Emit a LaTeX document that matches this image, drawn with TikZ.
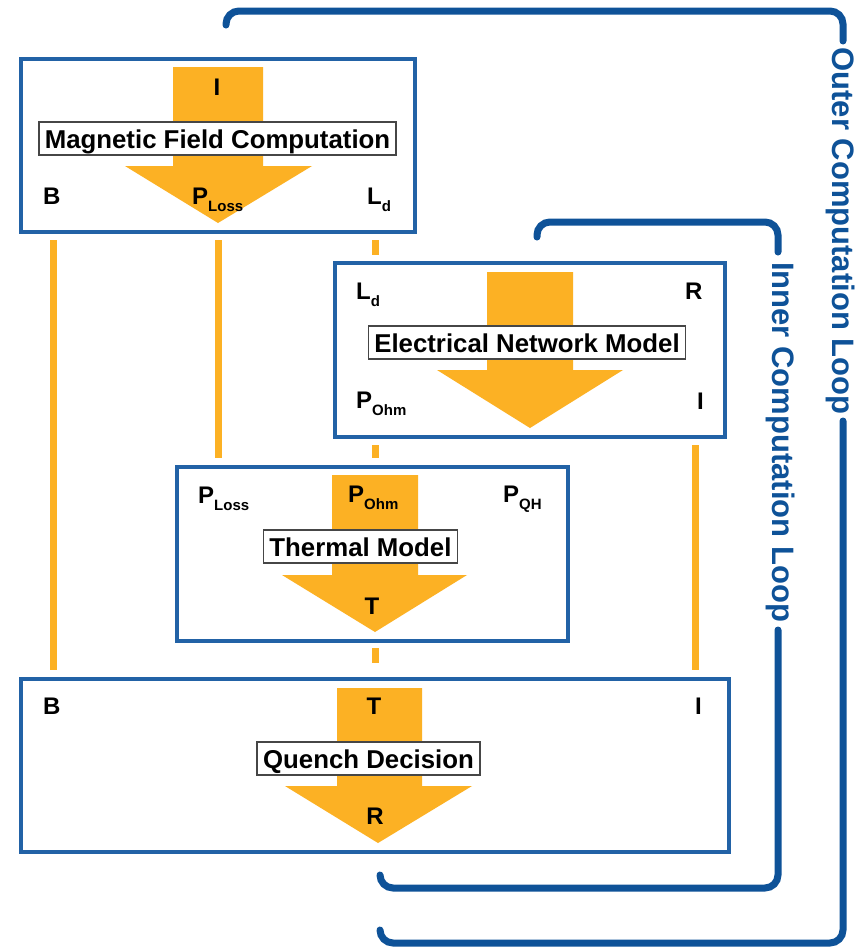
\documentclass[tikz,border=0pt]{standalone}
\usepackage{fontspec}
\setmainfont{Liberation Sans}
\definecolor{orng}{RGB}{252,177,36}
\definecolor{loopbl}{RGB}{14,82,152}
\definecolor{boxbl}{RGB}{34,98,166}
\newcommand\sbs[1]{\raisebox{-7pt}{\fontsize{15}{15}\selectfont #1}}
\begin{document}
\begin{tikzpicture}[x=1pt,y=-1pt,
  blk/.style={draw=boxbl, line width=3.5, fill=white, inner sep=0},
  arr/.style={fill=orng},
  ttl/.style={draw=gray!55!black, line width=1.5, fill=white,
    font=\fontsize{25.8}{26}\selectfont\bfseries, inner xsep=6, inner ysep=0,
    text height=26, text depth=7, anchor=base},
  lab/.style={font=\fontsize{24}{24}\selectfont\bfseries, anchor=base west, inner sep=0},
  labc/.style={lab, anchor=base},
  conn/.style={draw=orng, line width=7},
  looptxt/.style={text=loopbl, font=\fontsize{31}{31}\selectfont\bfseries, rotate=-90, anchor=base, inner sep=0},
  loopline/.style={draw=loopbl, line width=7, line cap=round, rounded corners=13}]
\useasboundingbox (0,0) rectangle (858,948);

% blocks
\node[blk, minimum width=394, minimum height=173] (mfc) at (218,145.5) {};
\node[blk, minimum width=390, minimum height=174] (enm) at (530,350) {};
\node[blk, minimum width=391, minimum height=174] (thm) at (372.5,554) {};
\node[blk, minimum width=708, minimum height=173] (qd) at (375,765.5) {};

% big arrows
\fill[arr] (173,67) -- (263,67) -- (263,166) -- (312,166) -- (218,223) -- (125,166) -- (173,166) -- cycle;
\fill[arr] (487,272) -- (573,272) -- (573,370) -- (623,370) -- (530,428) -- (437,370) -- (487,370) -- cycle;
\fill[arr] (332,475) -- (418,475) -- (418,575) -- (467,575) -- (375,632) -- (282,575) -- (332,575) -- cycle;
\fill[arr] (337,688) -- (422,688) -- (422,786) -- (472,786) -- (378,843) -- (285,786) -- (337,786) -- cycle;

% titles
\node[ttl] (mfct) at (217.5,148) {Magnetic Field Computation};
\node[ttl] (enmt) at (527,352) {Electrical Network Model};
\node[ttl] (thmt) at (360.5,556) {Thermal Model};
\node[ttl] (qdt) at (368.5,768) {Quench Decision};

% labels box 1
\node[labc] (m1) at (217,95) {I};
\node[lab] (m2) at (43,204) {B};
\node[lab] (m3) at (192,204) {P\sbs{Loss}};
\node[lab] (m4) at (367,204) {L\sbs{d}};
% labels box 2
\node[lab] (e1) at (356,299) {L\sbs{d}};
\node[lab] (e2) at (685,299) {R};
\node[lab] (e3) at (356,408) {P\sbs{Ohm}};
\node[lab] (e4) at (697,409) {I};
% labels box 3
\node[lab] (t1) at (198,503) {P\sbs{Loss}};
\node[lab] (t2) at (348,502) {P\sbs{Ohm}};
\node[lab] (t3) at (503,502) {P\sbs{QH}};
\node[labc] (t4) at (372,614) {T};
% labels box 4
\node[lab] (q1) at (43,714) {B};
\node[labc] (q2) at (374,714) {T};
\node[lab] (q3) at (695,714) {I};
\node[labc] (q4) at (375,824) {R};

% orange connectors
\coordinate (cB1) at (53,240);   \coordinate (cB2) at (53,670);
\coordinate (cP1) at (218,240);  \coordinate (cP2) at (218,458);
\coordinate (cL1) at (375,240);  \coordinate (cL2) at (375,255);
\coordinate (cO1) at (375,445);  \coordinate (cO2) at (375,458);
\coordinate (cT1) at (375,648);  \coordinate (cT2) at (375,663);
\coordinate (cI1) at (695,445);  \coordinate (cI2) at (695,670);
\draw[conn] (cB1) -- (cB2);
\draw[conn] (cP1) -- (cP2);
\draw[conn] (cL1) -- (cL2);
\draw[conn] (cO1) -- (cO2);
\draw[conn] (cT1) -- (cT2);
\draw[conn] (cI1) -- (cI2);

% loops
\node[looptxt] (outer) at (832,231) {Outer Computation Loop};
\node[looptxt] (inner) at (772,442) {Inner Computation Loop};
\draw[loopline] (226,25) -- (226,11) -- (843,11) -- (843,41);
\draw[loopline] (843,421) -- (843,943) -- (380,943) -- (380,930);
\draw[loopline] (537,237) -- (537,222) -- (778,222) -- (778,252);
\draw[loopline] (778,630) -- (778,888) -- (380,888) -- (380,875);
\end{tikzpicture}
\end{document}
